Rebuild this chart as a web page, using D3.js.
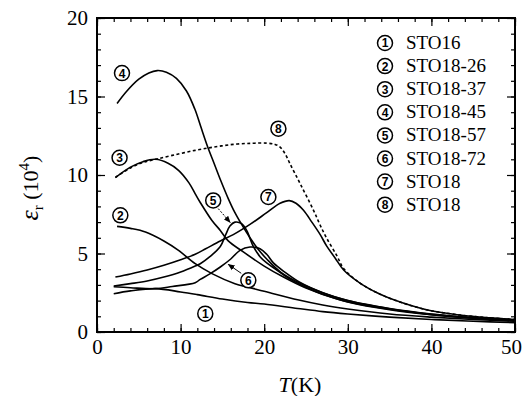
<!DOCTYPE html>
<html>
<head>
<meta charset="utf-8">
<script src="https://cdn.jsdelivr.net/npm/d3@7/dist/d3.min.js"></script>
<style>
  body { margin: 0; background: #fff; }
  svg text { font-family: "Liberation Serif", Tinos; fill: #000; }
</style>
</head>
<body>
<svg id="chart" width="523" height="396"></svg>
<script>
// T (K), eps_r (10^4)
var sto16    = [[2,2.44],[4,2.62],[7,2.76],[10,2.55],[12,2.38],[15,2.1],[18,1.88],[20,1.78],[24,1.5],[27,1.3],[30,1.15],[35,0.95],[40,0.8],[45,0.68],[50,0.6]];
var sto18_26 = [[2.4,6.73],[4,6.6],[5.8,6.37],[8,5.8],[9.75,5.2],[11.75,4.35],[13.75,3.72],[16.5,3.08],[18,2.86],[20,2.6],[24,2.05],[27,1.72],[30,1.47],[35,1.15],[40,0.95],[45,0.8],[50,0.68]];
var sto18_37 = [[2.2,9.83],[4,10.5],[5.5,10.85],[7,11.0],[8.5,10.75],[9.75,10.3],[11,9.5],[11.75,8.8],[12.35,8.25],[13.75,7.1],[14.75,6.47],[15.7,5.8],[17.5,5.1],[20,4.2],[22.3,3.5],[25,2.8],[29,2.05],[32,1.7],[35,1.45],[40,1.1],[45,0.88],[50,0.72]];
var sto18_45 = [[2.4,14.55],[3.5,15.3],[5,16.1],[6.2,16.5],[7.2,16.65],[8.3,16.55],[9.5,16.15],[10.7,15.35],[11.7,14.2],[12.4,13.1],[13.2,11.85],[14,10.75],[14.8,9.65],[15.7,8.5],[16.5,7.6],[17.3,6.85],[18.3,6.0],[19.3,5.25],[20.3,4.65],[22,3.8],[24.3,3.1],[27,2.5],[30,2.0],[35,1.5],[40,1.15],[45,0.92],[50,0.76]];
var sto18_57 = [[2,2.93],[4,3.08],[6,3.25],[8,3.5],[10,3.82],[11.75,4.2],[12.35,4.35],[13.5,4.8],[14.75,5.45],[15.4,6.2],[15.9,6.75],[16.5,7.0],[17.3,6.9],[17.9,6.47],[18.7,5.45],[19.5,4.8],[20.3,4.4],[21.5,3.95],[23,3.4],[25,2.85],[27,2.4],[30,1.92],[35,1.42],[40,1.1],[45,0.88],[50,0.72]];
var sto18_72 = [[2,2.88],[4,2.82],[7,2.76],[9,2.9],[11.75,3.14],[12.35,3.35],[13.5,3.7],[14.75,4.14],[16,4.65],[17.1,5.2],[18.3,5.41],[19.5,5.3],[20.3,4.95],[21.1,4.4],[22.5,3.8],[24.3,3.15],[27,2.5],[30,2.0],[35,1.48],[40,1.13],[45,0.9],[50,0.74]];
var sto18    = [[2.2,3.5],[4,3.7],[6,3.95],[8,4.25],[10,4.6],[11.75,4.95],[13,5.3],[14.75,5.8],[16.3,6.2],[18.3,6.85],[20.3,7.6],[21.9,8.2],[23,8.37],[23.8,8.2],[24.7,7.75],[25.7,7.0],[26.7,6.2],[27.5,5.45],[28.5,4.7],[29.5,3.95],[31.5,3.1],[33.5,2.5],[35.5,2.05],[39.4,1.42],[43.4,1.08],[47,0.9],[50,0.8]];
var sto18_b  = [[2.2,9.85],[4,10.45],[5.5,10.8],[7,11.0],[9,11.25],[11.75,11.57],[14,11.78],[16.3,11.95],[18.5,12.02],[20.3,12.03],[21.3,11.95],[21.9,11.78],[22.5,11.35],[23.1,10.7],[24.3,9.45],[25.9,7.75],[26.7,6.8],[27.5,5.95],[28.7,4.85],[29.5,4.05],[31.5,3.1],[33.5,2.5],[35.5,2.05],[39.4,1.42],[43.4,1.08],[47,0.9],[50,0.8]];

var seriesNames = ['STO16', 'STO18-26', 'STO18-37', 'STO18-45', 'STO18-57', 'STO18-72', 'STO18', 'STO18'];
var seriesData = [sto16, sto18_26, sto18_37, sto18_45, sto18_57, sto18_72, sto18, sto18_b];
var xTicks = [0, 10, 20, 30, 40, 50];
var yTicks = [0, 5, 10, 15, 20];

// where the circled numbers sit, in data units
var markers = [[12.95,1.17],[2.79,7.43],[2.7,11.1],[2.99,16.49],[13.9,8.38],[18.1,3.29],[20.5,8.6],[21.7,12.95]];

var serif = '"Liberation Serif", Tinos';
var svg = d3.select('#chart');

var x = d3.scaleLinear().domain([0, 50]).range([97, 515]);
var y = d3.scaleLinear().domain([0, 20]).range([332, 18]);

function circled(g, cx, cy, n) {
  g.append('circle')
      .attr('cx', cx).attr('cy', cy).attr('r', 7.5)
      .style('fill', '#fff')
      .style('stroke', '#000')
      .style('stroke-width', 1.5);
  g.append('text')
      .attr('x', cx).attr('y', cy + 4.4)
      .attr('text-anchor', 'middle')
      .style('font-family', '"Liberation Sans", Arial')
      .style('font-weight', 'bold')
      .style('font-size', '12px')
      .text(n);
}

var xMinor = d3.range(0, 51, 2), yMinor = d3.range(0, 21, 1);

// ticks point inward on all four sides
svg.append('g').attr('transform', 'translate(0,332)')
    .call(d3.axisBottom(x).tickValues(xMinor).tickSize(-4).tickFormat(''));
var xAxis = svg.append('g').attr('transform', 'translate(0,332)')
    .call(d3.axisBottom(x).tickValues(xTicks).tickSize(-8).tickPadding(7));
// keep the last label inside the page
xAxis.selectAll('.tick text').filter(function(d) { return d === 50; }).attr('dx', -4);

svg.append('g').attr('transform', 'translate(0,18)')
    .call(d3.axisTop(x).tickValues(xMinor).tickSize(-4).tickFormat(''));
svg.append('g').attr('transform', 'translate(0,18)')
    .call(d3.axisTop(x).tickValues(xTicks).tickSize(-8).tickFormat(''));

svg.append('g').attr('transform', 'translate(97,0)')
    .call(d3.axisLeft(y).tickValues(yMinor).tickSize(-4).tickFormat(''));
svg.append('g').attr('transform', 'translate(97,0)')
    .call(d3.axisLeft(y).tickValues(yTicks).tickSize(-8).tickPadding(9));

svg.append('g').attr('transform', 'translate(515,0)')
    .call(d3.axisRight(y).tickValues(yMinor).tickSize(-4).tickFormat(''));
svg.append('g').attr('transform', 'translate(515,0)')
    .call(d3.axisRight(y).tickValues(yTicks).tickSize(-8).tickFormat(''));

svg.selectAll('.domain').remove();
svg.selectAll('g').attr('font-family', null);
svg.selectAll('.tick line').style('stroke', '#000').style('stroke-width', 1.2);
svg.selectAll('.tick text')
    .style('font-family', serif)
    .style('font-size', '21px')
    .style('fill', '#000');

svg.append('rect')
    .attr('x', 97).attr('y', 18)
    .attr('width', 418).attr('height', 314)
    .style('fill', 'none')
    .style('stroke', '#000')
    .style('stroke-width', 2);

var line = d3.line()
    .x(function(d) { return x(d[0]); })
    .y(function(d) { return y(d[1]); })
    .curve(d3.curveCatmullRom.alpha(0.5));

svg.append('g').selectAll('path')
    .data(seriesData)
  .enter().append('path')
    .attr('d', line)
    .style('fill', 'none')
    .style('stroke', '#000')
    .style('stroke-width', 1.6)
    .style('stroke-dasharray', function(d, i) { return i === 7 ? '3,2.5' : null; });

// arrows for 5 and 6
svg.append('defs').append('marker')
    .attr('id', 'head')
    .attr('viewBox', '0 0 10 10')
    .attr('refX', 9).attr('refY', 5)
    .attr('markerWidth', 7).attr('markerHeight', 7)
    .attr('orient', 'auto')
  .append('path')
    .attr('d', 'M0,1 L10,5 L0,9 Z')
    .style('fill', '#000');

var arrows = [[[14.5, 7.86], [15.93, 6.98]], [[17.25, 3.74], [15.7, 4.31]]];
svg.append('g').selectAll('line')
    .data(arrows)
  .enter().append('line')
    .attr('x1', function(d) { return x(d[0][0]); })
    .attr('y1', function(d) { return y(d[0][1]); })
    .attr('x2', function(d) { return x(d[1][0]); })
    .attr('y2', function(d) { return y(d[1][1]); })
    .style('stroke', '#000')
    .style('stroke-width', 1)
    .style('stroke-dasharray', function(d, i) { return i === 0 ? '2,1.5' : null; })
    .attr('marker-end', 'url(#head)');

var lab = svg.append('g');
markers.forEach(function(m, i) {
  circled(lab, x(m[0]), y(m[1]), i + 1);
});

// legend
var legend = svg.append('g');
seriesNames.forEach(function(name, i) {
  var cy = 43 + i * 23.1;
  circled(legend, 385, cy, i + 1);
  legend.append('text')
      .attr('x', 406).attr('y', cy + 6)
      .style('font-family', serif)
      .style('font-size', '19px')
      .text(name);
});

// axis titles
var xt = svg.append('text')
    .attr('x', 300).attr('y', 392)
    .attr('text-anchor', 'middle')
    .style('font-family', serif)
    .style('font-size', '22px');
xt.append('tspan').style('font-style', 'italic').text('T');
xt.append('tspan').text('(K)');

var yt = svg.append('text')
    .attr('transform', 'translate(38,188) rotate(-90)')
    .attr('text-anchor', 'middle')
    .style('font-family', serif)
    .style('font-size', '22px');
yt.append('tspan').style('font-style', 'italic').style('font-size', '26px').text('ε');
yt.append('tspan').attr('dy', 5).style('font-size', '15px').text('r');
yt.append('tspan').attr('dy', -5).text(' (10');
yt.append('tspan').attr('dy', -9).style('font-size', '15px').text('4');
yt.append('tspan').attr('dy', 9).text(')');
</script>
</body>
</html>
